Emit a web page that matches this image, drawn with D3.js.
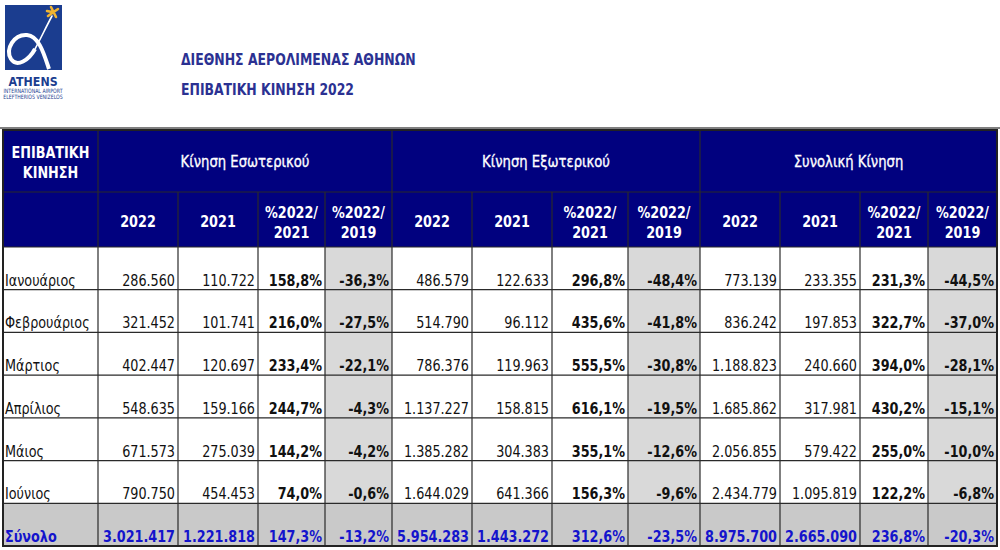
<!DOCTYPE html>
<html><head><meta charset="utf-8">
<script src="https://cdn.jsdelivr.net/npm/d3@7"></script>
<style>
html,body{margin:0;padding:0;background:#fff;}
svg{display:block;font-family:"DejaVu Sans",Verdana,sans-serif;}
</style></head>
<body>
<svg id="c" width="1000" height="550"></svg>
<script>
// ---------- DATA ----------
const titleLines = ["ΔΙΕΘΝΗΣ ΑΕΡΟΛΙΜΕΝΑΣ ΑΘΗΝΩΝ", "ΕΠΙΒΑΤΙΚΗ ΚΙΝΗΣΗ 2022"];
const cornerLabel = ["ΕΠΙΒΑΤΙΚΗ", "ΚΙΝΗΣΗ"];
const groups = ["Κίνηση Εσωτερικού", "Κίνηση Εξωτερικού", "Συνολική Κίνηση"];
const subHeaders = [["2022"], ["2021"], ["%2022/", "2021"], ["%2022/", "2019"]];
const months = ["Ιανουάριος", "Φεβρουάριος", "Μάρτιος", "Απρίλιος", "Μάιος", "Ιούνιος"];
const totalLabel = "Σύνολο";

// last value in each series = total row
const dom2022   = [286560, 321452, 402447, 548635, 671573, 790750, 3021417];
const dom2021   = [110722, 101741, 120697, 159166, 275039, 454453, 1221818];
const domPct21  = [158.8, 216.0, 233.4, 244.7, 144.2, 74.0, 147.3];
const domPct19  = [-36.3, -27.5, -22.1, -4.3, -4.2, -0.6, -13.2];
const intl2022  = [486579, 514790, 786376, 1137227, 1385282, 1644029, 5954283];
const intl2021  = [122633, 96112, 119963, 158815, 304383, 641366, 1443272];
const intlPct21 = [296.8, 435.6, 555.5, 616.1, 355.1, 156.3, 312.6];
const intlPct19 = [-48.4, -41.8, -30.8, -19.5, -12.6, -9.6, -23.5];
const tot2022   = [773139, 836242, 1188823, 1685862, 2056855, 2434779, 8975700];
const tot2021   = [233355, 197853, 240660, 317981, 579422, 1095819, 2665090];
const totPct21  = [231.3, 322.7, 394.0, 430.2, 255.0, 122.2, 236.8];
const totPct19  = [-44.5, -37.0, -28.1, -15.1, -10.0, -6.8, -20.3];

// ---------- LAYOUT ----------
const svg = d3.select("#c");
const SX = 0.8; // horizontal text compression
const NAVY = "#01017f", GRID = "#2a2a2a", GREY = "#d9d9d9", GREY2 = "#c9c9c9", BLUE = "#1414cc", INK = "#111";

const locale = d3.formatLocale({decimal: ",", thousands: ".", grouping: [3], currency: ["", "€"], minus: "-"});
const fInt = locale.format(",d");
const fPct = v => locale.format(".1f")(v) + "%";

const colKeys = ["label","d22","d21","dp21","dp19","i22","i21","ip21","ip19","t22","t21","tp21","tp19","end"];
const x = d3.scaleOrdinal().domain(colKeys).range([3, 98, 178, 258, 325, 392, 472, 552, 628, 700, 780, 860, 928, 997]);
const rowKeys = months.concat([totalLabel]);
const y = d3.scaleBand().domain(rowKeys).range([247, 546]);
const H1 = [130, 192], H2 = [192, 247];

const series = [dom2022, dom2021, domPct21, domPct19, intl2022, intl2021, intlPct21, intlPct19, tot2022, tot2021, totPct21, totPct19];
const columns = series.map((vals, i) => ({
  key: colKeys[i + 1], next: colKeys[i + 2], vals,
  kind: i % 4 < 2 ? "int" : (i % 4 === 2 ? "p21" : "p19")
}));

function txt(g, s, tx, ty, opts) {
  return g.append("text")
    .attr("transform", `translate(${tx},${ty}) scale(${opts.sx || SX},1)`)
    .attr("text-anchor", opts.anchor || "start")
    .attr("font-size", opts.size || 16)
    .attr("font-weight", opts.bold ? "bold" : "normal")
    .attr("fill", opts.fill || INK)
    .text(s);
}

// ---------- LOGO ----------
const logo = svg.append("g");
logo.append("rect").attr("x", 5).attr("y", 5).attr("width", 57).attr("height", 65).attr("fill", "#1b3d8f");
logo.append("path")
  .attr("d", "M52,16 C46,27 41,38 35,49")
  .attr("fill", "none").attr("stroke", "#fff").attr("stroke-width", 1.6).attr("stroke-linecap", "round");
logo.append("path")
  .attr("d", "M35,49 C29,60 17,68 11,59 C5,49 14,34 27,35 C39,36 44,54 49,69")
  .attr("fill", "none").attr("stroke", "#fff").attr("stroke-width", 4).attr("stroke-linecap", "butt");
logo.append("path")
  .attr("d", "M48,16 L58,9 M51,7 L56,17 M47,11 L52,12")
  .attr("stroke", "#f1b431").attr("stroke-width", 2.6).attr("stroke-linecap", "round");
txt(logo, "ATHENS", 33, 86, {anchor: "middle", size: 13, bold: true, fill: "#1b3d8f", sx: 0.85});
txt(logo, "INTERNATIONAL AIRPORT", 33, 93, {anchor: "middle", size: 6, fill: "#1b3d8f", sx: 0.78});
txt(logo, "ELEFTHERIOS VENIZELOS", 33, 99, {anchor: "middle", size: 6, fill: "#1b3d8f", sx: 0.78});

// ---------- TITLES ----------
txt(svg, titleLines[0], 181, 65, {size: 15, bold: true, fill: "#2b3192", sx: 0.83});
txt(svg, titleLines[1], 181, 95, {size: 15, bold: true, fill: "#2b3192", sx: 0.83});

// ---------- HEADER ----------
const hdr = svg.append("g");
hdr.append("rect").attr("x", x("label")).attr("y", H1[0]).attr("width", x("end") - x("label")).attr("height", H2[1] - H1[0]).attr("fill", NAVY);
txt(hdr, cornerLabel[0], (x("label") + x("d22")) / 2, 158, {anchor: "middle", bold: true, fill: "#fff"});
txt(hdr, cornerLabel[1], (x("label") + x("d22")) / 2, 178, {anchor: "middle", bold: true, fill: "#fff"});
const groupStarts = ["d22", "i22", "t22"], groupEnds = ["i22", "t22", "end"];
groups.forEach((gname, i) => {
  txt(hdr, gname, (x(groupStarts[i]) + x(groupEnds[i])) / 2, 167, {anchor: "middle", fill: "#fff", size: 16.5})
    .attr("stroke", "#fff").attr("stroke-width", 0.35);
});
columns.forEach((c, i) => {
  const lines = subHeaders[i % 4];
  const cx = (x(c.key) + x(c.next)) / 2;
  if (lines.length === 1) txt(hdr, lines[0], cx, 227, {anchor: "middle", bold: true, fill: "#fff"});
  else {
    txt(hdr, lines[0], cx, 218, {anchor: "middle", bold: true, fill: "#fff"});
    txt(hdr, lines[1], cx, 238, {anchor: "middle", bold: true, fill: "#fff"});
  }
});

// ---------- BODY ----------
const body = svg.append("g");
columns.filter(c => c.kind === "p19").forEach(c => {
  body.append("rect").attr("x", x(c.key)).attr("y", y(months[0]))
    .attr("width", x(c.next) - x(c.key)).attr("height", y(totalLabel) - y(months[0])).attr("fill", GREY);
});
body.append("rect").attr("x", x("label")).attr("y", y(totalLabel))
  .attr("width", x("end") - x("label")).attr("height", y.bandwidth()).attr("fill", GREY2);

rowKeys.forEach((r, ri) => {
  const isTotal = r === totalLabel;
  const base = y(r) + y.bandwidth() - 4;
  txt(body, r, x("label") + 2, base, {bold: isTotal, fill: isTotal ? BLUE : INK});
  columns.forEach(c => {
    const v = c.vals[ri];
    const s = c.kind === "int" ? fInt(v) : fPct(v);
    txt(body, s, x(c.next) - 3, base, {
      anchor: "end",
      bold: isTotal || c.kind !== "int",
      fill: isTotal ? BLUE : INK
    });
  });
});

// ---------- GRID ----------
const grid = svg.append("g").attr("stroke", GRID).attr("fill", "none");
["d22", "i22", "t22"].forEach(k => grid.append("line").attr("x1", x(k)).attr("x2", x(k)).attr("y1", H1[0]).attr("y2", H2[0]).attr("stroke-width", 1.2));
colKeys.slice(1, -1).forEach(k => grid.append("line").attr("x1", x(k)).attr("x2", x(k)).attr("y1", H2[0]).attr("y2", 546).attr("stroke-width", 1.2));
[H2[0], H2[1]].concat(rowKeys.slice(1).map(r => y(r))).forEach(yy =>
  grid.append("line").attr("x1", x("label")).attr("x2", x("end")).attr("y1", yy).attr("y2", yy).attr("stroke-width", 1.2));
grid.append("rect").attr("x", x("label")).attr("y", H1[0]).attr("width", x("end") - x("label")).attr("height", 546 - H1[0])
  .attr("stroke", "#222").attr("stroke-width", 2);
grid.append("line").attr("x1", 0).attr("x2", 1000).attr("y1", 128).attr("y2", 128).attr("stroke", "#555").attr("stroke-width", 1.5);
</script>
</body></html>
